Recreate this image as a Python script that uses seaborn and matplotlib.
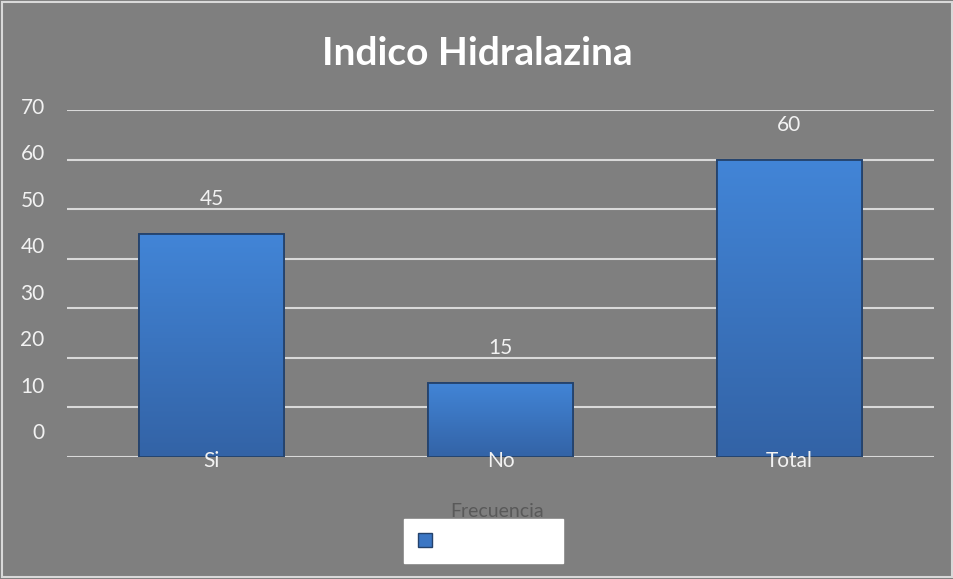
import matplotlib
matplotlib.use("Agg")
import matplotlib.pyplot as plt
import matplotlib.transforms as mtransforms
from matplotlib.patches import Patch, Rectangle
import numpy as np
import pandas as pd
import seaborn as sns

sns.set_style("white")
plt.rcParams['font.family'] = ['Lato', 'DejaVu Sans']

# data
categorias = ['Si', 'No', 'Total']
frecuencia = [45, 15, 60]
yticks = [0, 10, 20, 30, 40, 50, 60, 70]

df = pd.DataFrame({'categoria': categorias, 'frecuencia': frecuencia})

bg = '#7f7f7f'
fig = plt.figure(figsize=(9.54, 5.79), dpi=100, facecolor=bg)
ax = fig.add_axes([0.0702, 0.2107, 0.9088, 0.5993])
ax.set_facecolor(bg)

sns.barplot(df, x='categoria', y='frecuencia', color='#3b76c4', width=0.5,
            edgecolor='#2b4d7c', linewidth=1.2, ax=ax, zorder=3)

# vertical gradient inside each bar
grad = np.linspace(0, 1, 256).reshape(-1, 1)
cmap = matplotlib.colors.LinearSegmentedColormap.from_list('bar', ['#3363a6', '#4285d7'])
for bar in ax.patches:
    x0, y0 = bar.get_x(), bar.get_y()
    w, h = bar.get_width(), bar.get_height()
    im = ax.imshow(grad, cmap=cmap, aspect='auto', origin='lower',
                   extent=[x0, x0 + w, y0, y0 + h], zorder=3.5)
    im.set_clip_path(bar)
    ax.add_patch(Rectangle((x0, y0), w, h, fill=False, edgecolor='#24426b',
                           linewidth=1.3, zorder=4))

ax.set_xlim(-0.5, 2.5)
ax.set_ylim(0, 70)
ax.set_yticks(yticks)
ax.grid(axis='y', color='#d9d9d9', linewidth=1.5, zorder=0)
ax.set_axisbelow(True)
ax.xaxis.set_zorder(5)
for s in ax.spines.values():
    s.set_visible(False)

ax.tick_params(axis='y', length=0, labelsize=15, labelcolor='#f2f2f2', pad=16)
ax.tick_params(axis='x', length=0, labelsize=15, labelcolor='#f2f2f2', pad=-4)
# value labels sit a bit above their gridlines, like in the original
for v, lbl in zip(yticks, ax.get_yticklabels()):
    dy = (26 - 0.31 * v) / 100
    lbl.set_transform(lbl.get_transform() + mtransforms.ScaledTranslation(0, dy, fig.dpi_scale_trans))

# data labels
for i, v in enumerate(frecuencia):
    ax.annotate(str(v), (i, v), xytext=(0, 25), textcoords='offset points',
                ha='center', va='center', fontsize=15, color='#f2f2f2')

ax.set_xlabel('')
ax.set_ylabel('')

fig.text(0.5, 0.908, 'Indico Hidralazina', ha='center', va='center',
         fontsize=28, fontweight='bold', color='white')
fig.text(0.521, 0.117, 'Frecuencia', ha='center', va='center',
         fontsize=14, color='#595959')

leg = fig.legend(handles=[Patch(facecolor='#3b76c4', edgecolor='#24426b')], labels=[''],
                 bbox_to_anchor=(404 / 954, 16 / 579, 159 / 954, 44 / 579), loc='center',
                 mode='expand', frameon=True, fancybox=False, framealpha=1,
                 facecolor='white', edgecolor='white', handlelength=0.75, handleheight=0.75,
                 borderpad=0.7, borderaxespad=0, fontsize=14, handletextpad=0.2)
leg._legend_box.align = 'left'

fig.patches.append(Rectangle((2 / 954, 2 / 579), 950 / 954, 575 / 579, transform=fig.transFigure,
                             fill=False, edgecolor='#d9d9d9', linewidth=1.5))

fig.savefig('out.png', dpi=100, facecolor=bg)
